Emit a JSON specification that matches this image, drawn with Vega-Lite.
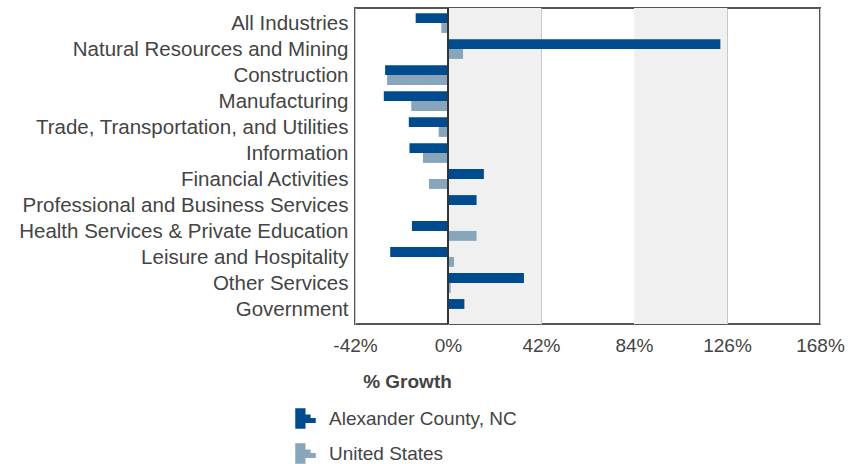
{
  "$schema": "https://vega.github.io/schema/vega-lite/v6.json",
  "autosize": {"type": "none"},
  "padding": {"left": 355, "top": 8, "right": 43, "bottom": 140},
  "width": 465,
  "height": 316,
  "background": "white",
  "config": {
    "font": "Liberation Sans",
    "view": {"stroke": "#555555", "strokeWidth": 2}
  },
  "datasets": {
    "bands": [{"start": 0, "end": 42}, {"start": 84, "end": 126}],
    "growth": [
      {"industry": "All Industries", "series": "Alexander County, NC", "value": -14.6},
      {"industry": "All Industries", "series": "United States", "value": -3.0},
      {"industry": "Natural Resources and Mining", "series": "Alexander County, NC", "value": 123.0},
      {"industry": "Natural Resources and Mining", "series": "United States", "value": 6.8},
      {"industry": "Construction", "series": "Alexander County, NC", "value": -28.4},
      {"industry": "Construction", "series": "United States", "value": -27.5},
      {"industry": "Manufacturing", "series": "Alexander County, NC", "value": -29.0},
      {"industry": "Manufacturing", "series": "United States", "value": -16.6},
      {"industry": "Trade, Transportation, and Utilities", "series": "Alexander County, NC", "value": -17.7},
      {"industry": "Trade, Transportation, and Utilities", "series": "United States", "value": -4.2},
      {"industry": "Information", "series": "Alexander County, NC", "value": -17.4},
      {"industry": "Information", "series": "United States", "value": -11.3},
      {"industry": "Financial Activities", "series": "Alexander County, NC", "value": 16.2},
      {"industry": "Financial Activities", "series": "United States", "value": -8.6},
      {"industry": "Professional and Business Services", "series": "Alexander County, NC", "value": 12.9},
      {"industry": "Professional and Business Services", "series": "United States", "value": 0.1},
      {"industry": "Health Services & Private Education", "series": "Alexander County, NC", "value": -16.3},
      {"industry": "Health Services & Private Education", "series": "United States", "value": 12.9},
      {"industry": "Leisure and Hospitality", "series": "Alexander County, NC", "value": -26.1},
      {"industry": "Leisure and Hospitality", "series": "United States", "value": 2.7},
      {"industry": "Other Services", "series": "Alexander County, NC", "value": 34.3},
      {"industry": "Other Services", "series": "United States", "value": 1.2},
      {"industry": "Government", "series": "Alexander County, NC", "value": 7.4},
      {"industry": "Government", "series": "United States", "value": 0.2}
    ]
  },
  "layer": [
    {
      "data": {"name": "bands"},
      "mark": {"type": "rect", "color": "#f0f0f0"},
      "encoding": {
        "x": {"field": "start", "type": "quantitative", "scale": {"domain": [-42, 168]}},
        "x2": {"field": "end"}
      }
    },
    {
      "data": {"name": "growth"},
      "mark": {"type": "bar", "height": {"band": 1}},
      "encoding": {
        "y": {
          "field": "industry",
          "type": "nominal",
          "sort": null,
          "scale": {"paddingInner": 0.24, "paddingOuter": 0.2},
          "axis": {
            "title": null,
            "domain": false,
            "ticks": false,
            "labelFontSize": 20.5,
            "labelColor": "#444444",
            "labelPadding": 7,
            "labelOffset": 1,
            "labelLimit": 400
          }
        },
        "yOffset": {"field": "series", "type": "nominal", "scale": {"paddingInner": 0}},
        "x": {
          "field": "value",
          "type": "quantitative",
          "scale": {"domain": [-42, 168], "nice": false, "zero": false},
          "axis": {
            "values": [-42, 0, 42, 84, 126, 168],
            "labelExpr": "datum.value + '%'",
            "domain": false,
            "ticks": false,
            "grid": true,
            "gridColor": "#c8c8c8",
            "gridWidth": 1,
            "labelFontSize": 19,
            "labelColor": "#444444",
            "labelPadding": 12,
            "labelFlush": false,
            "title": "% Growth",
            "titleFontSize": 19,
            "titleFontWeight": "bold",
            "titleColor": "#444444",
            "titleAnchor": "start",
            "titleAlign": "center",
            "titleX": 52,
            "titleY": 48,
            "titleBaseline": "top"
          }
        },
        "color": {
          "field": "series",
          "type": "nominal",
          "scale": {"domain": ["Alexander County, NC", "United States"], "range": ["#004b8d", "#87a5bb"]},
          "legend": {
            "title": null,
            "orient": "none",
            "legendX": -60,
            "legendY": 400,
            "direction": "vertical",
            "symbolType": "M-1,-1L0,-1L0,-0.4L0.5,-0.4L0.5,-0.05L1,-0.05L1,0.45L0,0.45L0,1L-1,1Z",
            "symbolSize": 420,
            "symbolStrokeWidth": 0,
            "labelFontSize": 19,
            "labelColor": "#444444",
            "labelOffset": 13,
            "labelLimit": 400,
            "rowPadding": 14
          }
        }
      }
    },
    {
      "data": {"values": [{"zero": 0}]},
      "mark": {"type": "rule", "color": "#333333", "strokeWidth": 2},
      "encoding": {"x": {"field": "zero", "type": "quantitative"}}
    }
  ]
}
